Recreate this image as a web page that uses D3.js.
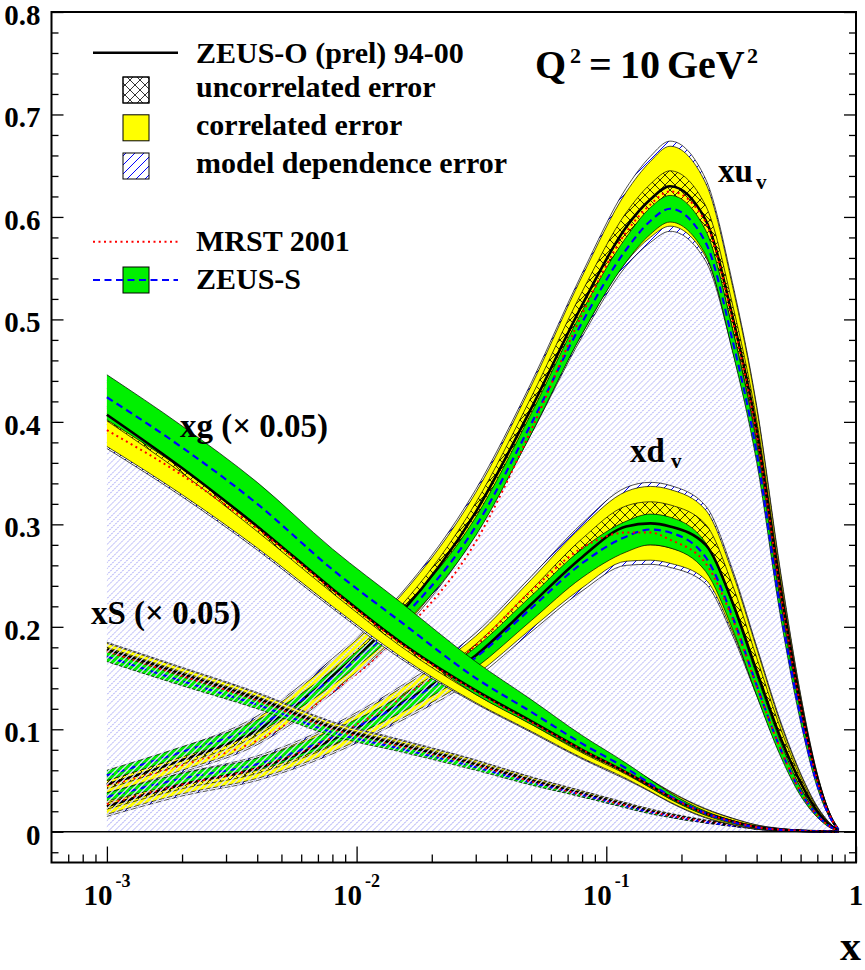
<!DOCTYPE html>
<html>
<head>
<meta charset="utf-8">
<script src="https://cdn.jsdelivr.net/npm/d3@7"></script>
<style>
  body { margin: 0; background: #fff; }
  svg text { font-family: "Liberation Serif", "Times New Roman", Times, serif; font-weight: bold; fill: #000; }
</style>
</head>
<body>
<svg id="chart" width="865" height="970"></svg>
<script>
// x grid shared by every curve
const xGrid = [0.001, 0.002, 0.004, 0.008, 0.015, 0.03, 0.05, 0.08, 0.12, 0.15, 0.18, 0.25, 0.32, 0.4, 0.5, 0.6, 0.7, 0.8, 0.85];

// xu_v
const uvZeusO   = [0.046, 0.070, 0.099, 0.152, 0.213, 0.312, 0.413, 0.514, 0.590, 0.617, 0.630, 0.597, 0.503, 0.392, 0.236, 0.125, 0.052, 0.012, 0.002];
const uvUncorr  = [0.004, 0.004, 0.005, 0.006, 0.007, 0.009, 0.011, 0.013, 0.014, 0.015, 0.015, 0.014, 0.012, 0.010, 0.007, 0.004, 0.002, 0.001, 0.0005];
const uvCorr    = [0.008, 0.010, 0.012, 0.015, 0.017, 0.019, 0.022, 0.028, 0.034, 0.037, 0.039, 0.036, 0.030, 0.022, 0.014, 0.008, 0.004, 0.0015, 0.0005];
const uvModel   = [0.010, 0.012, 0.014, 0.017, 0.019, 0.022, 0.025, 0.031, 0.038, 0.042, 0.044, 0.040, 0.033, 0.024, 0.016, 0.009, 0.0045, 0.0017, 0.0006];
const uvZeusS   = [0.055, 0.078, 0.103, 0.150, 0.207, 0.298, 0.398, 0.497, 0.568, 0.596, 0.608, 0.575, 0.480, 0.370, 0.215, 0.112, 0.046, 0.011, 0.002];
const uvZeusSEr = [0.005, 0.005, 0.006, 0.007, 0.008, 0.009, 0.010, 0.011, 0.012, 0.013, 0.013, 0.012, 0.011, 0.009, 0.007, 0.005, 0.003, 0.001, 0.0005];
const uvMrst    = [0.045, 0.065, 0.089, 0.136, 0.192, 0.283, 0.392, 0.505, 0.585, 0.612, 0.625, 0.595, 0.500, 0.388, 0.232, 0.122, 0.050, 0.012, 0.002];

// xd_v
const dvZeusO   = [0.025, 0.046, 0.062, 0.090, 0.125, 0.172, 0.222, 0.268, 0.298, 0.301, 0.298, 0.280, 0.224, 0.157, 0.091, 0.048, 0.020, 0.005, 0.001];
const dvUncorr  = [0.003, 0.004, 0.005, 0.006, 0.008, 0.011, 0.014, 0.018, 0.020, 0.021, 0.021, 0.020, 0.017, 0.013, 0.009, 0.005, 0.003, 0.001, 0.0005];
const dvCorr    = [0.008, 0.009, 0.010, 0.012, 0.015, 0.019, 0.024, 0.030, 0.034, 0.036, 0.036, 0.034, 0.029, 0.022, 0.014, 0.008, 0.004, 0.0015, 0.0005];
const dvModel   = [0.010, 0.011, 0.012, 0.014, 0.017, 0.022, 0.027, 0.033, 0.038, 0.040, 0.040, 0.038, 0.032, 0.024, 0.016, 0.009, 0.0045, 0.0017, 0.0006];
const dvZeusS   = [0.034, 0.052, 0.066, 0.092, 0.124, 0.170, 0.218, 0.262, 0.288, 0.295, 0.292, 0.268, 0.210, 0.143, 0.080, 0.039, 0.016, 0.004, 0.001];
const dvZeusSEr = [0.004, 0.005, 0.006, 0.007, 0.008, 0.010, 0.012, 0.014, 0.015, 0.015, 0.015, 0.014, 0.012, 0.010, 0.007, 0.004, 0.002, 0.001, 0.0005];
const dvMrst    = [0.027, 0.046, 0.062, 0.092, 0.130, 0.182, 0.235, 0.277, 0.292, 0.292, 0.285, 0.262, 0.208, 0.142, 0.080, 0.039, 0.016, 0.004, 0.001];

// xS (x 0.05)
const sZeusO    = [0.178, 0.154, 0.130, 0.102, 0.085, 0.066, 0.050, 0.037, 0.026, 0.020, 0.016, 0.010, 0.0065, 0.0035, 0.0018, 0.0008, 0.0003, 0.0001, 0];
const sUncorr   = [0.002, 0.002, 0.002, 0.002, 0.002, 0.0018, 0.0015, 0.0012, 0.001, 0.0009, 0.0008, 0.0006, 0.0004, 0.0003, 0.0002, 0.0001, 0, 0, 0];
const sCorr     = [0.006, 0.0055, 0.005, 0.0045, 0.004, 0.0035, 0.003, 0.0025, 0.002, 0.0019, 0.0018, 0.0012, 0.0009, 0.0006, 0.0004, 0.0002, 0.0001, 0, 0];
const sModel    = [0.007, 0.0065, 0.006, 0.0055, 0.005, 0.0042, 0.0036, 0.003, 0.0024, 0.0022, 0.002, 0.0014, 0.001, 0.0007, 0.0004, 0.0002, 0.0001, 0, 0];
const sZeusS    = [0.171, 0.147, 0.124, 0.097, 0.081, 0.063, 0.048, 0.036, 0.025, 0.019, 0.0155, 0.0095, 0.006, 0.0033, 0.0017, 0.0008, 0.0003, 0.0001, 0];
const sZeusSEr  = [0.005, 0.0045, 0.004, 0.0035, 0.003, 0.003, 0.0025, 0.002, 0.0018, 0.0016, 0.0015, 0.001, 0.0008, 0.0005, 0.0003, 0.0002, 0.0001, 0, 0];
const sMrst     = [0.176, 0.152, 0.128, 0.100, 0.083, 0.065, 0.049, 0.036, 0.0255, 0.0195, 0.0158, 0.0098, 0.0063, 0.0034, 0.0017, 0.0008, 0.0003, 0.0001, 0];

// xg (x 0.05)
const gZeusO    = [0.407, 0.355, 0.298, 0.237, 0.185, 0.138, 0.108, 0.080, 0.058, 0.045, 0.034, 0.018, 0.010, 0.0045, 0.002, 0.001, 0.0004, 0.0001, 0];
const gUncorr   = [0.006, 0.005, 0.005, 0.004, 0.004, 0.004, 0.003, 0.003, 0.002, 0.002, 0.002, 0.0015, 0.001, 0.001, 0.0005, 0.0003, 0.0002, 0.0001, 0];
const gCorr     = [0.031, 0.026, 0.021, 0.017, 0.014, 0.012, 0.010, 0.008, 0.006, 0.0055, 0.005, 0.004, 0.003, 0.002, 0.001, 0.0005, 0.0003, 0.0001, 0];
const gModel    = [0.033, 0.028, 0.023, 0.019, 0.016, 0.013, 0.011, 0.009, 0.007, 0.006, 0.0055, 0.0045, 0.0033, 0.0022, 0.0012, 0.0006, 0.0003, 0.0001, 0];
const gZeusS    = [0.424, 0.375, 0.320, 0.256, 0.205, 0.150, 0.117, 0.086, 0.062, 0.047, 0.035, 0.018, 0.0095, 0.0042, 0.0019, 0.0009, 0.0003, 0.0001, 0];
const gZeusSEr  = [0.022, 0.021, 0.021, 0.020, 0.019, 0.016, 0.012, 0.008, 0.005, 0.004, 0.003, 0.002, 0.0015, 0.001, 0.0006, 0.0003, 0.0002, 0.0001, 0];
const gMrst     = [0.392, 0.348, 0.296, 0.236, 0.184, 0.137, 0.107, 0.080, 0.058, 0.045, 0.034, 0.018, 0.010, 0.0045, 0.002, 0.001, 0.0004, 0.0001, 0];

// axes
const yMajor = [0, 0.1, 0.2, 0.3, 0.4, 0.5, 0.6, 0.7, 0.8];
const yMinor = [-0.02, 0.02, 0.04, 0.06, 0.08, 0.12, 0.14, 0.16, 0.18, 0.22, 0.24, 0.26, 0.28, 0.32, 0.34, 0.36, 0.38,
  0.42, 0.44, 0.46, 0.48, 0.52, 0.54, 0.56, 0.58, 0.62, 0.64, 0.66, 0.68, 0.72, 0.74, 0.76, 0.78];
const xMajor = [0.001, 0.01, 0.1, 1];
const xMajorExp = ["-3", "-2", "-1", ""];

const legendLabels = ["ZEUS-O (prel) 94-00", "uncorrelated error", "correlated error", "model dependence error", "MRST 2001", "ZEUS-S"];

const pdfs = {
  uv: { o: uvZeusO, unc: uvUncorr, cor: uvCorr, mod: uvModel, s: uvZeusS, sErr: uvZeusSEr, mrst: uvMrst },
  dv: { o: dvZeusO, unc: dvUncorr, cor: dvCorr, mod: dvModel, s: dvZeusS, sErr: dvZeusSEr, mrst: dvMrst },
  sea: { o: sZeusO, unc: sUncorr, cor: sCorr, mod: sModel, s: sZeusS, sErr: sZeusSEr, mrst: sMrst },
  glu: { o: gZeusO, unc: gUncorr, cor: gCorr, mod: gModel, s: gZeusS, sErr: gZeusSEr, mrst: gMrst }
};

const YELLOW = "#ffff00";
const GREEN = "#00f000";
const HATCH = "#9c9cf4";

const svg = d3.select("#chart");
const pL = 51.5, pR = 856, pT = 12, pB = 862.5;

const x = d3.scaleLog().domain([6e-4, 1]).range([pL, pR]);
const y = d3.scaleLinear().domain([-0.03, 0.8]).range([pB, pT]);

// curve helpers
const area = (lo, hi) => d3.area()
  .x((d, i) => x(xGrid[i])).y0((d, i) => y(lo[i])).y1((d, i) => y(hi[i]))
  .curve(d3.curveMonotoneX)(xGrid);
const line = (v) => d3.line()
  .x((d, i) => x(xGrid[i])).y((d, i) => y(v[i]))
  .curve(d3.curveMonotoneX)(xGrid);
const minus = (c, e) => c.map((v, i) => Math.max(0, v - e[i]));
const plus = (c, e) => c.map((v, i) => v + e[i]);
const zeros = xGrid.map(() => 0);

// defs: clips + patterns
const defs = svg.append("defs");
defs.append("clipPath").attr("id", "plotClip")
  .append("rect").attr("x", pL).attr("y", pT).attr("width", pR - pL).attr("height", pB - pT);

// region under the valence curves
const clipA = defs.append("clipPath").attr("id", "hatchA");
[pdfs.uv, pdfs.dv].forEach(p => clipA.append("path").attr("d", area(zeros, minus(p.o, p.mod))));
// region under the gluon curve (drawn over the lower bands)
defs.append("clipPath").attr("id", "hatchB")
  .append("path").attr("d", area(zeros, minus(pdfs.glu.o, pdfs.glu.mod)));

const mh = defs.append("pattern").attr("id", "modelHatch")
  .attr("patternUnits", "userSpaceOnUse").attr("width", 9).attr("height", 9);
mh.append("rect").attr("width", 9).attr("height", 9).attr("fill", "#fff");
mh.append("path").attr("d", "M-1,1 L1,-1 M0,9 L9,0 M8,10 L10,8").attr("stroke", "#0000ff").attr("stroke-width", 1);

const ch = defs.append("pattern").attr("id", "crossHatch")
  .attr("patternUnits", "userSpaceOnUse").attr("width", 10).attr("height", 10);
ch.append("path").attr("d", "M0,0 L10,10 M0,10 L10,0").attr("stroke", "#000").attr("stroke-width", 0.8);

const plot = svg.append("g").attr("clip-path", "url(#plotClip)");

// diagonal hatch lines, 6 px apart, clipped to a region
const hatchStarts = d3.range(pL - (pB - pT), pR + 6, 6);
function hatch(clipId) {
  const g = plot.append("g").attr("clip-path", `url(#${clipId})`);
  g.selectAll("line.w").data(hatchStarts).join("line").attr("class", "w")
    .attr("x1", d => d).attr("y1", pB).attr("x2", d => d + (pB - pT)).attr("y2", pT)
    .attr("stroke", "#fff").attr("stroke-width", 1.2);
  g.selectAll("line.h").data(hatchStarts).join("line").attr("class", "h")
    .attr("x1", d => d).attr("y1", pB).attr("x2", d => d + (pB - pT)).attr("y2", pT)
    .attr("stroke", HATCH).attr("stroke-width", 1).attr("stroke-dasharray", "2,0.9");
}

function drawPdf(p) {
  const g = plot.append("g");
  const bands = [
    { lo: minus(p.o, p.mod), hi: plus(p.o, p.mod), fill: "url(#modelHatch)" },
    { lo: minus(p.o, p.cor), hi: plus(p.o, p.cor), fill: YELLOW },
    { lo: minus(p.o, p.unc), hi: plus(p.o, p.unc), fill: "url(#crossHatch)" },
    { lo: minus(p.s, p.sErr), hi: plus(p.s, p.sErr), fill: GREEN }
  ];
  bands.forEach(b => {
    g.append("path").attr("d", area(b.lo, b.hi)).attr("fill", b.fill);
    [b.lo, b.hi].forEach(edge =>
      g.append("path").attr("d", line(edge)).attr("fill", "none")
        .attr("stroke", "#000").attr("stroke-width", 0.7));
  });
  g.append("path").attr("d", line(p.o)).attr("fill", "none")
    .attr("stroke", "#000").attr("stroke-width", 2.6);
  g.append("path").attr("d", line(p.s)).attr("fill", "none")
    .attr("stroke", "#0000ff").attr("stroke-width", 2.2).attr("stroke-dasharray", "7,4.5");
  g.append("path").attr("d", line(p.mrst)).attr("fill", "none")
    .attr("stroke", "#ff0000").attr("stroke-width", 2).attr("stroke-dasharray", "2,3.5");
}

hatch("hatchA");
drawPdf(pdfs.uv);
drawPdf(pdfs.dv);
drawPdf(pdfs.sea);
hatch("hatchB");
drawPdf(pdfs.glu);

// zero line
svg.append("line").attr("x1", pL).attr("x2", pR).attr("y1", y(0)).attr("y2", y(0))
  .attr("stroke", "#000").attr("stroke-width", 1.3);

// axes
const tickStyle = g => {
  g.select(".domain").remove();
  g.selectAll(".tick line").attr("stroke", "#000").attr("stroke-width", 1.3);
};

svg.append("g").attr("transform", `translate(${pL},0)`)
  .call(d3.axisLeft(y).tickValues(yMajor).tickSize(-12).tickPadding(11)
    .tickFormat(d => d === 0 ? "0" : d3.format(".1f")(d)))
  .call(tickStyle)
  .call(g => g.selectAll("text").attr("font-size", 29).attr("dy", "0.43em"));
svg.append("g").attr("transform", `translate(${pL},0)`)
  .call(d3.axisLeft(y).tickValues(yMinor).tickSize(-7).tickFormat(""))
  .call(tickStyle);
svg.append("g").attr("transform", `translate(${pR},0)`)
  .call(d3.axisRight(y).tickValues(yMajor).tickSize(-12).tickFormat(""))
  .call(tickStyle);
svg.append("g").attr("transform", `translate(${pR},0)`)
  .call(d3.axisRight(y).tickValues(yMinor).tickSize(-7).tickFormat(""))
  .call(tickStyle);

const xMinor = x.ticks().filter(d => !xMajor.some(m => Math.abs(m - d) / m < 1e-6) && d > 6.5e-4);
svg.append("g").attr("transform", `translate(0,${pB})`)
  .call(d3.axisBottom(x).tickValues(xMajor).tickSize(-16).tickFormat(""))
  .call(tickStyle);
svg.append("g").attr("transform", `translate(0,${pB})`)
  .call(d3.axisBottom(x).tickValues(xMinor).tickSize(-8).tickFormat(""))
  .call(tickStyle);

// x tick labels: 10^-k
xMajor.forEach((v, i) => {
  const t = svg.append("text").attr("x", x(v)).attr("y", 905).attr("text-anchor", "middle")
    .attr("font-size", 29);
  if (xMajorExp[i] === "") {
    t.text("1");
  } else {
    t.append("tspan").text("10");
    t.append("tspan").attr("dx", 3).attr("dy", -18).attr("font-size", 18).text(xMajorExp[i]);
  }
});

// frame
svg.append("rect").attr("x", pL).attr("y", pT).attr("width", pR - pL).attr("height", pB - pT)
  .attr("fill", "none").attr("stroke", "#000").attr("stroke-width", 2);

// axis title
svg.append("text").attr("x", 861).attr("y", 960).attr("text-anchor", "end")
  .attr("font-size", 42).text("x");

// curve labels
svg.append("text").attr("x", 180).attr("y", 437).attr("font-size", 33).text("xg (\u00d7 0.05)");
svg.append("text").attr("x", 91).attr("y", 624).attr("font-size", 33).text("xS (\u00d7 0.05)");
svg.append("text").attr("x", 718).attr("y", 182).attr("font-size", 33).text("xu");
svg.append("text").attr("x", 756).attr("y", 189).attr("font-size", 21).text("v");
svg.append("text").attr("x", 630).attr("y", 462).attr("font-size", 33).text("xd");
svg.append("text").attr("x", 671).attr("y", 468).attr("font-size", 21).text("v");

// Q^2 label
const q = svg.append("text").attr("y", 78).attr("font-size", 40);
q.append("tspan").attr("x", 535).text("Q");
q.append("tspan").attr("x", 570).attr("y", 63).attr("font-size", 22).text("2");
q.append("tspan").attr("x", 589).attr("y", 78).text("=");
q.append("tspan").attr("x", 620).text("10");
q.append("tspan").attr("x", 667).text("GeV");
q.append("tspan").attr("x", 747).attr("y", 63).attr("font-size", 22).text("2");

// legend
const legRowY = [52.7, 90, 127.8, 166, 241.7, 280];
const legBase = [63.3, 96.7, 135, 173.3, 251, 289.3];
const legKinds = ["line", "cross", "yellow", "model", "dotted", "green"];
const leg = svg.append("g");
legKinds.forEach((k, i) => {
  const cy = legRowY[i];
  const box = fill => leg.append("rect").attr("x", 123).attr("y", cy - 13).attr("width", 26).attr("height", 26)
    .attr("fill", fill).attr("stroke", "#000").attr("stroke-width", 1);
  if (k === "line") {
    leg.append("line").attr("x1", 93).attr("x2", 178).attr("y1", cy).attr("y2", cy)
      .attr("stroke", "#000").attr("stroke-width", 2.6);
  } else if (k === "cross") {
    box("#fff");
    box("url(#crossHatch)");
  } else if (k === "yellow") {
    box(YELLOW);
  } else if (k === "model") {
    box("url(#modelHatch)");
  } else if (k === "dotted") {
    leg.append("line").attr("x1", 93).attr("x2", 178).attr("y1", cy).attr("y2", cy)
      .attr("stroke", "#ff0000").attr("stroke-width", 2).attr("stroke-dasharray", "2,3.5");
  } else if (k === "green") {
    box(GREEN);
    leg.append("line").attr("x1", 93).attr("x2", 178).attr("y1", cy).attr("y2", cy)
      .attr("stroke", "#0000ff").attr("stroke-width", 2.2).attr("stroke-dasharray", "7,4.5");
  }
  leg.append("text").attr("x", 196).attr("y", legBase[i]).attr("font-size", 30).text(legendLabels[i]);
});
</script>
</body>
</html>
